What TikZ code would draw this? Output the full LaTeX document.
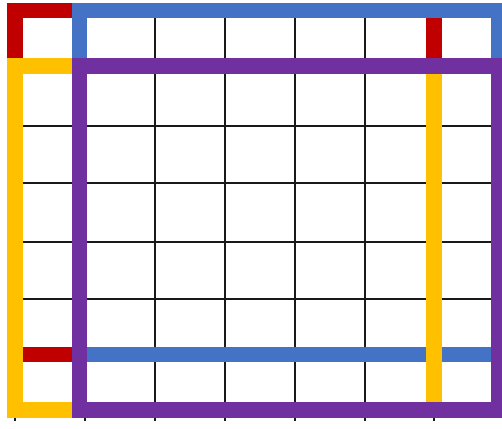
\documentclass[tikz,border=0pt]{standalone}
\usetikzlibrary{calc}
\definecolor{cellred}{HTML}{C00000}
\definecolor{cellblue}{HTML}{4472C4}
\definecolor{cellyellow}{HTML}{FFC000}
\definecolor{cellpurple}{HTML}{7030A0}
\tikzset{
  gridline/.style={draw=black!90, line width=2.2pt},
  band/.style={line width=15.5pt, line join=miter, line cap=butt},
  redband/.style={band, draw=cellred},
  blueband/.style={band, draw=cellblue},
  yellowband/.style={band, draw=cellyellow},
  purpleband/.style={band, draw=cellpurple},
}
\begin{document}
\begin{tikzpicture}[x=1pt, y=-1pt]

  \useasboundingbox (0,0) rectangle (502,428);
  \fill[white] (0,0) rectangle (502,428);

  % sheet grid
  \foreach \gx in {15,85,155,225,295,365,434}
    \draw[gridline] (\gx,10.5) -- (\gx,421);
  \foreach \gy in {10.5,66,126,183,242,299,354.5,410}
    \draw[gridline] (15,\gy) -- (498.5,\gy);

  % red and blue (top block)
  \draw[redband] (72,10.5) -- (15,10.5) -- (15,58);
  \draw[redband] (434,18) -- (434,58);
  \draw[redband] (23,354.5) -- (72,354.5);
  \draw[blueband] (79.5,58) -- (79.5,10.5) -- (498.5,10.5) -- (498.5,58);
  \draw[blueband] (87,354.5) -- (498.5,354.5);

  % yellow and purple (lower block)
  \draw[yellowband] (72,66) -- (15,66) -- (15,410) -- (72,410);
  \draw[yellowband] (434,66) -- (434,402);
  \draw[purpleband] (79.5,66) -- (498.5,66) -- (498.5,410) -- (79.5,410) -- cycle;

\end{tikzpicture}
\end{document}
